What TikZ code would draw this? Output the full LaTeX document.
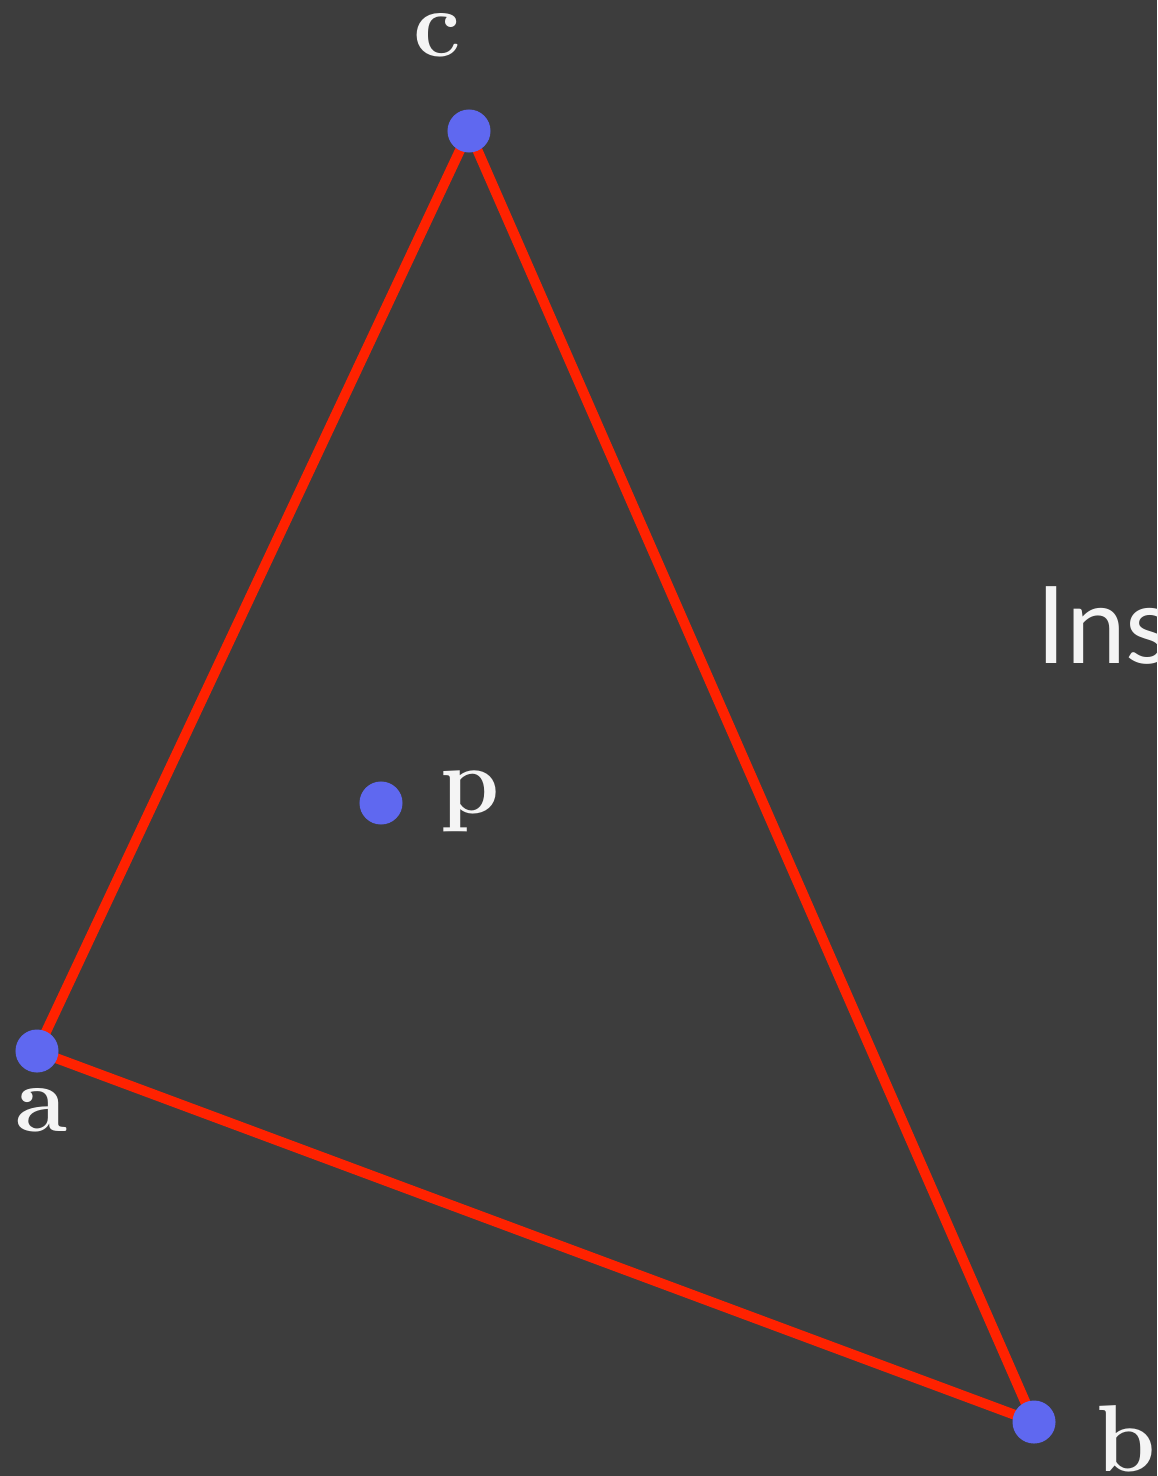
\documentclass[tikz,border=0pt]{standalone}
\usepackage{fontspec}
\newfontfamily\insfont{Lato}
\definecolor{bg}{HTML}{3D3D3D}
\definecolor{edge}{HTML}{FF2200}
\definecolor{pt}{HTML}{5F68F0}
\definecolor{lbl}{HTML}{F4F4F4}
\begin{document}
\begin{tikzpicture}[x=0.01cm,y=-0.01cm,
  vert/.style={circle,fill=pt,minimum size=0.43cm,inner sep=0pt},
  side/.style={draw=edge,line width=0.1cm},
  lab/.style={text=lbl,anchor=base west,inner sep=0pt,font=\fontsize{27}{31}\selectfont\bfseries}]
\fill[bg] (0,0) rectangle (1157,1476);
\useasboundingbox (0,0) rectangle (1157,1476);
\coordinate (A) at (37,1051);
\coordinate (B) at (1034,1422);
\coordinate (C) at (469,131);
\draw[side] (A) -- (B) -- (C) -- cycle;
\node[vert] (a) at (A) {};
\node[vert] (b) at (B) {};
\node[vert] (c) at (C) {};
\node[vert] (p) at (381,803) {};
\node[lab] (lc) at (413,57) {c};
\node[lab] (la) at (15,1131) {a};
\node[lab] (lb) at (1096,1471) {b};
\node[lab] (lp) at (440,813) {p};
\node[text=lbl,anchor=base west,inner sep=0pt,font=\insfont\fontsize{30.5}{36}\selectfont] (ins) at (1036,663) {Ins};
\end{tikzpicture}
\end{document}
